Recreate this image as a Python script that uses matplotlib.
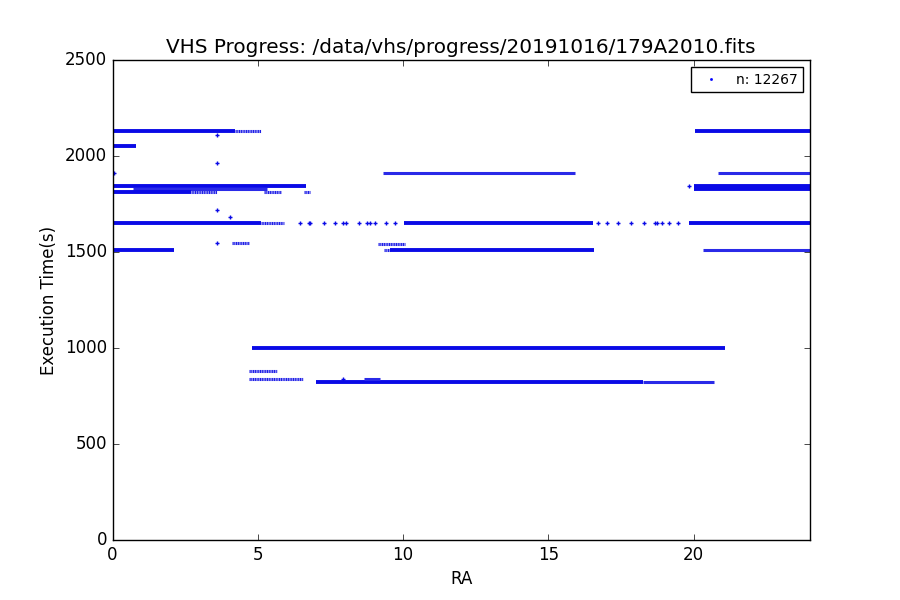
import matplotlib
matplotlib.use("Agg")
import matplotlib.pyplot as plt
from matplotlib.lines import Line2D

# ---- data ----
n_points = 12267

# bands of nearly continuous observations: execution time, RA start, RA end, density
band_time = [2130, 2130, 2050, 1845, 1828, 1812, 1812, 1812, 1812, 1650, 1650, 1510, 1545,
             1910, 1650, 1540, 1510, 1510, 1000, 880, 840, 825, 825, 840,
             2130, 1910, 1845, 1828, 1650, 1510]
band_ra0 = [0.0, 4.2, 0.0, 0.0, 0.7, 0.0, 2.7, 5.2, 6.6, 0.0, 5.1, 0.0, 4.1,
            9.3, 10.02, 9.15, 9.33, 9.56, 4.8, 4.7, 4.7, 7.0, 18.27, 8.65,
            20.05, 20.85, 20.0, 20.0, 19.84, 20.33]
band_ra1 = [4.2, 5.1, 0.8, 6.65, 5.3, 2.7, 3.6, 5.8, 6.8, 5.1, 5.9, 2.1, 4.7,
            15.9, 16.55, 10.05, 9.56, 16.57, 21.06, 5.65, 6.55, 18.27, 20.68, 9.2,
            24.0, 24.0, 24.0, 24.0, 24.0, 24.0]
band_kind = ['dense', 'sparse', 'dense', 'dense', 'medium', 'dense', 'sparse', 'sparse', 'sparse',
             'dense', 'sparse', 'dense', 'sparse',
             'medium', 'dense', 'sparse', 'sparse', 'dense', 'dense', 'sparse', 'sparse', 'dense',
             'medium', 'medium',
             'dense', 'medium', 'dense', 'dense', 'dense', 'medium']

# isolated observations
iso_ra = [3.58, 3.58, 3.58, 4.06, 3.58, 0.05, 19.84, 7.94,
          6.44, 6.75, 6.81, 7.27, 7.64, 7.92, 8.05, 8.49, 8.76, 8.87, 9.02, 9.40, 9.71,
          16.72, 17.03, 17.41, 17.84, 18.29, 18.65, 18.72, 18.92, 19.16, 19.47]
iso_time = [2109, 1963, 1719, 1682, 1547, 1911, 1844, 840,
            1650, 1650, 1650, 1650, 1650, 1650, 1650, 1650, 1650, 1650, 1650, 1650, 1650,
            1650, 1650, 1650, 1650, 1650, 1650, 1650, 1650, 1650, 1650]

title = "VHS Progress: /data/vhs/progress/20191016/179A2010.fits"

# ---- plot ----
plt.style.use('classic')
plt.rcParams['savefig.facecolor'] = 'white'
plt.rcParams['figure.facecolor'] = 'white'

fig, ax = plt.subplots(figsize=(9, 6), dpi=100)
fig.subplots_adjust(left=0.125, right=0.9, bottom=0.1, top=0.9)

blue = '#0a0ae6'
styles = {'dense': dict(linestyle='solid', linewidth=2.8, colors=blue),
          'medium': dict(linestyle='solid', linewidth=2.2, colors='#2a2ae8'),
          'sparse': dict(linestyle=(0, (0.9, 0.35)), linewidth=2.2, colors='#1e1ee6')}
for y, x0, x1, k in zip(band_time, band_ra0, band_ra1, band_kind):
    ax.hlines(y, x0, x1, capstyle='butt', **styles[k])

ax.plot(iso_ra, iso_time, ls='none', marker='+', markersize=3, mew=1.0, color=blue)

ax.set_xlim(0, 24)
ax.set_ylim(0, 2500)
ax.set_xticks([0, 5, 10, 15, 20])
ax.set_yticks([0, 500, 1000, 1500, 2000, 2500])
ax.set_xlabel('RA')
ax.set_ylabel('Execution Time(s)')
ax.set_title(title, fontsize=14.4)

proxy = Line2D([], [], ls='none', marker='.', markersize=3, color='b', mec='b')
ax.legend([proxy], [f'n: {n_points}'], loc='upper right', numpoints=1, fontsize=10)

fig.savefig('out.png', dpi=100)
